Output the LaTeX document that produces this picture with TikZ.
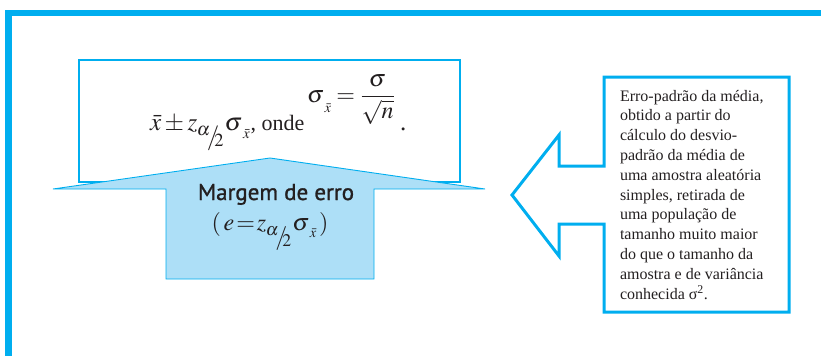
\documentclass[tikz,border=0pt]{standalone}
\usepackage{mathptmx}
\usepackage{fontspec}
\setmainfont{Liberation Serif}
\newfontfamily\labelsans[FakeBold=1.2]{PT Sans}
\definecolor{frameblue}{HTML}{00AEEF}
\definecolor{arrowfill}{HTML}{ADDFF7}
\definecolor{ink}{HTML}{231F20}
% slanted alpha/2 hanging below the baseline
\newcommand\ahalf{\mbox{\kern-0.5pt\raisebox{-5pt}{$\scriptstyle\alpha$}\kern-3pt\raisebox{-14pt}{$/$}\kern-5pt\raisebox{-16pt}{$\scriptstyle 2$}\kern1pt}}
% small barred x as a low subscript
\newcommand\xsub[1]{\mbox{\kern0.5pt\raisebox{-#1}{$\scriptscriptstyle\bar{x}$}}}

\begin{document}
\begin{tikzpicture}[x=1pt,y=-1pt,
  every node/.style={inner sep=0pt, outer sep=0pt, text=ink},
  framebar/.style={fill=frameblue},
  formulabox/.style={draw=frameblue, line width=1.3pt},
  marginarrow/.style={draw=frameblue, line width=0.9pt, fill=arrowfill, line join=miter},
  callout/.style={draw=frameblue, line width=3pt, line join=miter},
  formulatext/.style={font=\fontsize{25}{29}\selectfont},
  labeltext/.style={font=\labelsans\fontsize{23}{27}\selectfont},
  notetext/.style={font=\fontsize{16}{19.8}\selectfont, align=left}]
\useasboundingbox (0,0) rectangle (821,356);

% page frame: top rule and left rule
\fill[framebar] (5.3,10) rectangle (821,16);
\fill[framebar] (5.3,10) rectangle (11.5,356);

% box holding the confidence interval
\draw[formulabox] (79,60) rectangle (460,182);

% upward block arrow: margin of error
\draw[marginarrow] (270,158) -- (485,189) -- (374,189) -- (374,279)
  -- (166,279) -- (166,189) -- (53,189) -- cycle;

% interval formula
\node[formulatext, anchor=base west] (interval) at (150,130)
  {$\bar{x}\pm z\ahalf\sigma\xsub{8pt}$\kern1pt{\fontsize{22}{26}\selectfont, onde}};
\node[font=\fontsize{24}{28}\selectfont, anchor=base west] (stderr) at (307,102.5)
  {$\sigma\xsub{10pt} = \displaystyle\frac{\sigma}{\sqrt{n}}$};
\node[formulatext, anchor=base west] (stop) at (400,130) {.};

% arrow label
\node[labeltext, anchor=base] (margin) at (276,200) {Margem de erro};
\node[font=\fontsize{24}{28}\selectfont, anchor=base] (marginf) at (270,230)
  {$(\,e\kern2pt{=}\kern2pt z\ahalf\sigma\xsub{7pt}\,)$};

% left-pointing callout with the explanation
\draw[callout] (512,195) -- (559,135) -- (559,166) -- (604,166) -- (604,77)
  -- (789,77) -- (789,312) -- (604,312) -- (604,224) -- (559,224)
  -- (559,256) -- cycle;
\node[notetext, anchor=north west] (note) at (620,90)
  {Erro-padrão da média,\\
   obtido a partir do\\
   cálculo do desvio-\\
   padrão da média de\\
   uma amostra aleatória\\
   simples, retirada de\\
   uma população de\\
   tamanho muito maior\\
   do que o tamanho da\\
   amostra e de variância\\
   conhecida σ\textsuperscript{2}.};
\end{tikzpicture}
\end{document}
